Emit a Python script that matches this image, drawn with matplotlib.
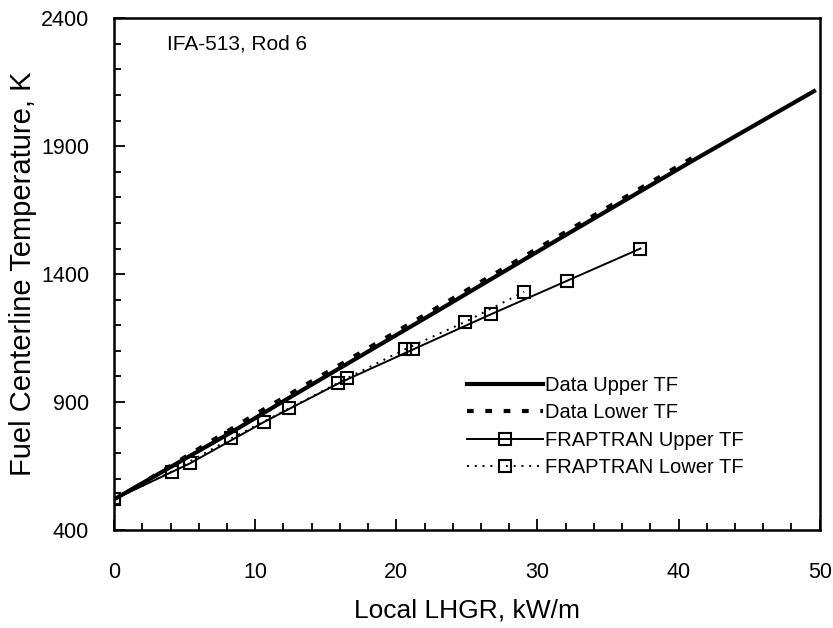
import matplotlib.pyplot as plt
from matplotlib.ticker import MultipleLocator

plt.rcParams['font.family'] = ['Liberation Sans', 'DejaVu Sans']

# measured data (thick lines)
data_up_x = [0, 8.4, 12.2, 23.0, 31.45, 40.96, 49.6]
data_up_t = [520, 785, 910, 1259, 1535, 1842, 2115]
data_lo_x = [2.5, 10, 20, 30, 41]
data_lo_t = [600, 852, 1175, 1500, 1855]

# FRAPTRAN predictions
frap_up_x = [0, 5.36, 10.65, 15.9, 21.2, 26.7, 32.1, 37.3]
frap_up_t = [520, 660, 823, 973, 1106, 1243, 1374, 1500]
frap_lo_x = [0, 4.07, 8.3, 12.4, 16.5, 20.6, 24.9, 29.05]
frap_lo_t = [520, 628, 758, 875, 993, 1106, 1214, 1331]

y_ticks = [400, 900, 1400, 1900, 2400]

fig = plt.figure(figsize=(8.33, 6.28), dpi=100)
ax = fig.add_axes([0.137, 0.156, 0.847, 0.815])

ax.plot(data_up_x, data_up_t, color='black', lw=3, label='Data Upper TF')
ax.plot(data_lo_x, data_lo_t, color='black', lw=3, linestyle=(0, (1.6, 2.8)),
        label='Data Lower TF')
ax.plot(frap_up_x, frap_up_t, color='black', lw=1.4, marker='s', ms=9,
        mfc='none', mew=1.5, label='FRAPTRAN Upper TF')
ax.plot(frap_lo_x, frap_lo_t, color='black', lw=1.4, linestyle=(0, (1, 3)),
        marker='s', ms=9, mfc='none', mew=1.5, label='FRAPTRAN Lower TF')

ax.set_xlim(0, 50)
ax.set_ylim(400, 2400)
ax.xaxis.set_major_locator(MultipleLocator(10))
ax.xaxis.set_minor_locator(MultipleLocator(2))
ax.set_yticks(y_ticks)
ax.yaxis.set_minor_locator(MultipleLocator(100))
ax.tick_params(which='both', direction='in', top=False, right=False,
               labelsize=15.5, width=1.3)
ax.tick_params(which='major', length=8)
ax.tick_params(which='minor', length=5)
ax.tick_params(axis='y', which='major', pad=18)
ax.tick_params(axis='x', which='major', pad=23)
for s in ax.spines.values():
    s.set_linewidth(1.8)

ax.set_xlabel('Local LHGR, kW/m', fontsize=19, labelpad=11)
ax.set_ylabel('Fuel Centerline Temperature, K', fontsize=21, labelpad=3)
ax.text(0.075, 0.969, 'IFA-513, Rod 6', transform=ax.transAxes,
        fontsize=15, va='top')

ax.legend(loc='lower left', bbox_to_anchor=(0.474, 0.068), frameon=False,
          fontsize=14.5, handlelength=3.8, handletextpad=0.1, labelspacing=0.42)

fig.savefig('out.png', dpi=100)
